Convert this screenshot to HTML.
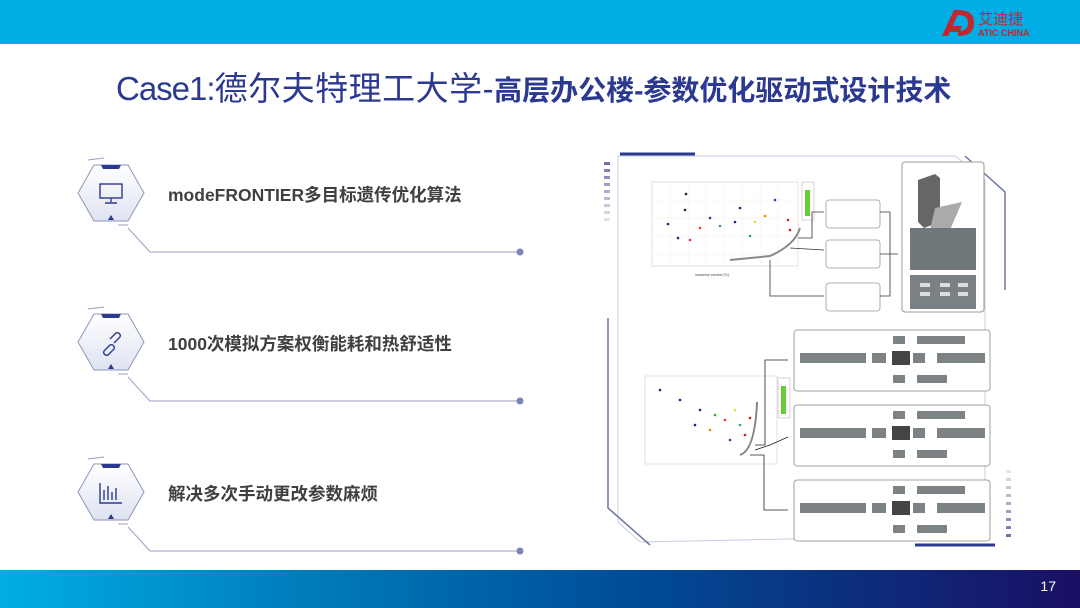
<!DOCTYPE html>
<html><head><meta charset="utf-8"><style>
body{margin:0;width:1080px;height:608px;overflow:hidden;background:#fff;font-family:"Liberation Sans","Noto Sans CJK SC",sans-serif;position:relative}
.top{position:absolute;left:0;top:0;width:1080px;height:44px;background:#00ade5}
.bot{position:absolute;left:0;top:570px;width:1080px;height:38px;background:linear-gradient(90deg,#00ade5 0%,#0079b8 30%,#004a95 60%,#1a0f63 100%)}
.num{position:absolute;right:24px;top:578px;color:#fff;font-size:14px}
.title{position:absolute;left:116px;top:62px;color:#2b3990;font-size:33px;white-space:nowrap;letter-spacing:0.5px}
.title .c{letter-spacing:-1px}
.title b{font-size:28px;font-weight:bold;letter-spacing:0}
.item{position:absolute;left:168px;font-size:17.5px;font-weight:bold;color:#404040;font-family:"Liberation Sans","Noto Sans CJK SC",sans-serif}
</style></head><body>
<div class="top"></div>
<svg style="position:absolute;left:940px;top:6px" width="110" height="34">
<path d="M2 30 L14 4 L20 4 L8 30Z" fill="#c0282d"/><path d="M12 20 L22 20 L20 26 L10 26Z" fill="#c0282d"/>
<path d="M18 4 Q34 4 34 17 Q34 30 18 30 L18 25 Q28 25 28 17 Q28 9 18 9Z" fill="#c0282d"/>
<text x="38" y="18" font-size="15" fill="#c0282d" font-family="Noto Sans CJK SC">艾迪捷</text>
<text x="38" y="30" font-size="9" fill="#c0282d" font-weight="bold">ATIC CHINA</text>
</svg>
<div class="title"><span class="c">Case1:</span>德尔夫特理工大学-<b>高层办公楼-参数优化驱动式设计技术</b></div>

<svg style="position:absolute;left:0;top:0" width="600" height="570">
<defs><linearGradient id="hg" x1="0" y1="0" x2="0" y2="1"><stop offset="0" stop-color="#fff"/><stop offset="1" stop-color="#dfe3f1"/></linearGradient></defs>
<g id="h1">
<path d="M94 165 L128 165 L144 193 L128 221 L94 221 L78 193Z" fill="url(#hg)" stroke="#8d95bd" stroke-width="1"/>
<path d="M101 165 L121 165 L119 169 L103 169Z" fill="#2b3990"/>
<path d="M108 220 L111 215 L114 220Z" fill="#2b3990"/>
<path d="M88 160 L104 158 M128 228 L150 252 L520 252" stroke="#9aa0c4" fill="none"/>
<path d="M118 225 L128 225" stroke="#9aa0c4"/>
<circle cx="520" cy="252" r="3.5" fill="#7c85b8"/>
</g>
<use href="#h1" y="149"/><use href="#h1" y="299"/>
<g stroke="#2b3990" stroke-width="1.4" fill="none">
<rect x="100" y="184" width="22" height="14"/><path d="M111 198 v4 M105 203 h12"/>
<path d="M104 351 l6 -6 a3 3 0 0 1 4 4 l-6 6 a3 3 0 0 1 -4 -4z M110 339 l6 -6 a3 3 0 0 1 4 4 l-6 6"/>
<path d="M100 483 v20 h22 M104 500 v-10 M108 500 v-14 M112 500 v-8 M116 500 v-12"/>
</g>
</svg>
<div class="item" style="top:182px">modeFRONTIER多目标遗传优化算法</div>
<div class="item" style="top:331px">1000次模拟方案权衡能耗和热舒适性</div>
<div class="item" style="top:481px">解决多次手动更改参数麻烦</div>

<svg style="position:absolute;left:590px;top:150px" width="440" height="420">
<g fill="none">
<path d="M28 6 L365 6 L395 30 L395 385 L50 392 L28 372Z" stroke="#c9cce0" stroke-width="1"/>
<path d="M30 4 L105 4" stroke="#2b3990" stroke-width="3"/>
<path d="M325 395 L405 395" stroke="#2b3990" stroke-width="3"/>
<path d="M375 6 L415 42 L415 140" stroke="#6d76a8" stroke-width="1.5"/>
<path d="M18 168 L18 358 L60 395" stroke="#6d76a8" stroke-width="1.5"/>
</g>
<g fill="#6d76a8"><rect x="14" y="12" width="6" height="3"/><rect x="14" y="19" width="6" height="3" opacity=".9"/><rect x="14" y="26" width="6" height="3" opacity=".8"/><rect x="14" y="33" width="6" height="3" opacity=".7"/><rect x="14" y="40" width="6" height="3" opacity=".6"/><rect x="14" y="47" width="6" height="3" opacity=".5"/><rect x="14" y="54" width="6" height="3" opacity=".4"/><rect x="14" y="61" width="6" height="3" opacity=".3"/><rect x="14" y="68" width="6" height="3" opacity=".2"/>
<rect x="416" y="320" width="5" height="3" opacity=".2"/><rect x="416" y="328" width="5" height="3" opacity=".3"/><rect x="416" y="336" width="5" height="3" opacity=".4"/><rect x="416" y="344" width="5" height="3" opacity=".5"/><rect x="416" y="352" width="5" height="3" opacity=".6"/><rect x="416" y="360" width="5" height="3" opacity=".7"/><rect x="416" y="368" width="5" height="3" opacity=".8"/><rect x="416" y="376" width="5" height="3" opacity=".9"/><rect x="416" y="384" width="5" height="3"/></g>
<rect x="62" y="32" width="146" height="84" fill="#fff" stroke="#ccc" stroke-width=".6"/>
<g stroke="#eee" stroke-width=".5"><path d="M80 32v84M98 32v84M116 32v84M134 32v84M152 32v84M170 32v84M188 32v84M62 50h146M62 68h146M62 86h146M62 104h146"/></g>
<g fill="#223">
<circle cx="78" cy="74" r="1.3" fill="#228"/><circle cx="95" cy="60" r="1.3"/><circle cx="96" cy="44" r="1.3"/><circle cx="110" cy="78" r="1.3" fill="#e33"/><circle cx="120" cy="68" r="1.3" fill="#339"/><circle cx="130" cy="76" r="1.3" fill="#3a3"/><circle cx="145" cy="72" r="1.3" fill="#228"/><circle cx="160" cy="86" r="1.3" fill="#2a8"/><circle cx="175" cy="66" r="1.3" fill="#e80"/><circle cx="185" cy="50" r="1.3" fill="#33a"/><circle cx="198" cy="70" r="1.3" fill="#c22"/><circle cx="200" cy="80" r="1.3" fill="#c22"/><circle cx="150" cy="58" r="1.3" fill="#228"/><circle cx="100" cy="90" r="1.3" fill="#e33"/><circle cx="88" cy="88" r="1.3" fill="#228"/><circle cx="165" cy="72" r="1.3" fill="#dd3"/>
</g>
<path d="M140 110 L180 106 Q205 95 210 78" stroke="#888" stroke-width="2" fill="none"/>
<rect x="212" y="32" width="12" height="38" fill="none" stroke="#aaa" stroke-width=".5"/><rect x="215" y="40" width="5" height="26" fill="#6c3"/>
<text x="105" y="126" font-size="3.5" fill="#444">maximise comfort (%)</text>
<g fill="#fff" stroke="#999" stroke-width=".8"><rect x="236" y="50" width="54" height="28" rx="3"/><rect x="236" y="90" width="54" height="28" rx="3"/><rect x="236" y="133" width="54" height="28" rx="3"/></g>
<g stroke="#333" stroke-width=".8" fill="none"><path d="M208 88 L222 88 L222 62 L234 62M200 98 L234 100M180 110 L180 146 L234 146M290 62 L300 62 L300 146 L290 146M290 104 L308 104"/></g>
<rect x="312" y="12" width="82" height="150" rx="3" fill="#fff" stroke="#999"/>
<path d="M328 30 L345 24 L350 28 L350 72 L334 78 L328 72Z" fill="#666"/><path d="M345 58 L372 52 L360 80 L340 80Z" fill="#aaa"/>
<rect x="320" y="78" width="66" height="42" fill="#6f777b"/><rect x="320" y="125" width="66" height="34" fill="#7a8184"/>
<g fill="#ddd"><rect x="330" y="133" width="10" height="4"/><rect x="350" y="133" width="10" height="4"/><rect x="368" y="133" width="10" height="4"/><rect x="330" y="142" width="10" height="4"/><rect x="350" y="142" width="10" height="4"/><rect x="368" y="142" width="10" height="4"/></g>
<rect x="55" y="76" width="132" height="88" fill="#fff" stroke="#ccc" stroke-width=".6" transform="translate(0,150)"/>
<g transform="translate(0,150)"><circle cx="70" cy="90" r="1.3" fill="#228"/><circle cx="90" cy="100" r="1.3" fill="#228"/><circle cx="110" cy="110" r="1.3" fill="#228"/><circle cx="125" cy="115" r="1.3" fill="#3a3"/><circle cx="135" cy="120" r="1.3" fill="#e33"/><circle cx="145" cy="110" r="1.3" fill="#dd3"/><circle cx="150" cy="125" r="1.3" fill="#2a8"/><circle cx="155" cy="135" r="1.3" fill="#c22"/><circle cx="160" cy="118" r="1.3" fill="#c22"/><circle cx="140" cy="140" r="1.3" fill="#33a"/><circle cx="120" cy="130" r="1.3" fill="#e80"/><circle cx="105" cy="125" r="1.3" fill="#228"/><path d="M150 155 Q165 150 167 102" stroke="#888" stroke-width="2" fill="none"/></g>
<rect x="188" y="228" width="12" height="40" fill="none" stroke="#aaa" stroke-width=".5"/><rect x="191" y="236" width="5" height="28" fill="#6c3"/>
<g stroke="#222" stroke-width=".8" fill="none"><path d="M165 295 L175 295 L175 210 L198 210M165 300 L180 295 L198 287M160 305 L174 305 L174 360 L198 360"/></g>
<g fill="#fff" stroke="#888" stroke-width=".8"><rect x="204" y="180" width="196" height="61" rx="3"/><rect x="204" y="255" width="196" height="61" rx="3"/><rect x="204" y="330" width="196" height="61" rx="3"/></g>
<g fill="#7d8285">
<rect x="210" y="203" width="66" height="10"/><rect x="282" y="203" width="14" height="10"/><rect x="302" y="201" width="18" height="14" fill="#444"/><rect x="323" y="203" width="12" height="10"/><rect x="347" y="203" width="48" height="10"/><rect x="303" y="186" width="12" height="8"/><rect x="327" y="186" width="48" height="8"/><rect x="303" y="225" width="12" height="8"/><rect x="327" y="225" width="30" height="8"/>
<rect x="210" y="278" width="66" height="10"/><rect x="282" y="278" width="14" height="10"/><rect x="302" y="276" width="18" height="14" fill="#444"/><rect x="323" y="278" width="12" height="10"/><rect x="347" y="278" width="48" height="10"/><rect x="303" y="261" width="12" height="8"/><rect x="327" y="261" width="48" height="8"/><rect x="303" y="300" width="12" height="8"/><rect x="327" y="300" width="30" height="8"/>
<rect x="210" y="353" width="66" height="10"/><rect x="282" y="353" width="14" height="10"/><rect x="302" y="351" width="18" height="14" fill="#444"/><rect x="323" y="353" width="12" height="10"/><rect x="347" y="353" width="48" height="10"/><rect x="303" y="336" width="12" height="8"/><rect x="327" y="336" width="48" height="8"/><rect x="303" y="375" width="12" height="8"/><rect x="327" y="375" width="30" height="8"/>
</g>
</svg>

<div class="bot"></div>
<div class="num">17</div>
</body></html>
